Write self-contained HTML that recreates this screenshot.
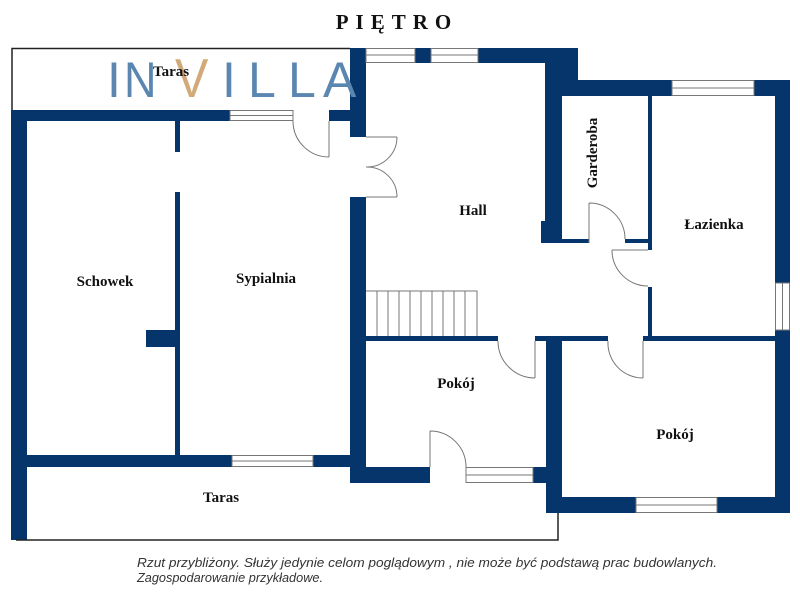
<!DOCTYPE html>
<html><head><meta charset="utf-8"><style>html,body{margin:0;padding:0;background:#fff}svg{display:block}</style></head>
<body>
<svg width="800" height="600" viewBox="0 0 800 600" xmlns="http://www.w3.org/2000/svg">
<g fill="#05356b">
<rect x="11" y="110" width="219" height="11"/>
<rect x="329" y="110" width="21" height="11"/>
<rect x="11" y="110" width="16" height="430"/>
<rect x="175" y="121" width="5" height="31"/>
<rect x="175" y="192" width="5" height="263"/>
<rect x="146" y="330" width="32" height="17"/>
<rect x="27" y="455" width="205" height="12"/>
<rect x="313" y="455" width="37" height="12"/>
<rect x="350" y="48" width="16" height="89"/>
<rect x="350" y="197" width="16" height="286"/>
<rect x="415" y="48" width="16" height="15"/>
<rect x="478" y="48" width="100" height="15"/>
<rect x="545" y="48" width="33" height="48"/>
<rect x="545" y="48" width="17" height="195"/>
<rect x="541" y="221" width="21" height="22"/>
<rect x="578" y="80" width="94" height="16"/>
<rect x="754" y="80" width="36" height="16"/>
<rect x="775" y="80" width="15" height="203"/>
<rect x="775" y="330" width="15" height="183"/>
<rect x="648" y="96" width="4" height="154"/>
<rect x="648" y="287" width="4" height="50"/>
<rect x="562" y="239" width="27" height="4"/>
<rect x="625" y="239" width="23" height="4"/>
<rect x="366" y="336" width="132" height="5"/>
<rect x="535" y="336" width="73" height="5"/>
<rect x="643" y="336" width="132" height="5"/>
<rect x="546" y="336" width="16" height="177"/>
<rect x="350" y="467" width="80" height="16"/>
<rect x="533" y="467" width="29" height="16"/>
<rect x="546" y="497" width="90" height="16"/>
<rect x="717" y="497" width="73" height="16"/>
</g>
<g fill="none" stroke="#777" stroke-width="1">
<rect x="230" y="110.5" width="63" height="10"/><line x1="230" y1="115.5" x2="293" y2="115.5"/>
<rect x="232" y="455.5" width="81" height="11"/><line x1="232" y1="461" x2="313" y2="461"/>
<rect x="366" y="48.5" width="49" height="14"/><line x1="366" y1="55" x2="415" y2="55"/>
<rect x="431" y="48.5" width="47" height="14"/><line x1="431" y1="55" x2="478" y2="55"/>
<rect x="672" y="80.5" width="82" height="15"/><line x1="672" y1="88" x2="754" y2="88"/>
<rect x="775.5" y="283" width="14" height="47"/><line x1="782.5" y1="283" x2="782.5" y2="330"/>
<rect x="466" y="467.5" width="67" height="15"/><line x1="466" y1="475" x2="533" y2="475"/>
<rect x="636" y="497.5" width="81" height="15"/><line x1="636" y1="505" x2="717" y2="505"/>
<path d="M329 121 V157 M329 157 A36 36 0 0 1 293 121"/>
<path d="M366 137 H397 M366 167 A30 30 0 0 0 397 137 M366 197 H397 M366 167 A30 30 0 0 1 397 197"/>
<path d="M589 203 V243 M589 203 A36 36 0 0 1 625 239"/>
<path d="M648 250 H612 M612 250 A36 36 0 0 0 648 286"/>
<path d="M535 341 V378 M535 378 A37 37 0 0 1 498 341"/>
<path d="M643 341 V378 M643 378 A35 35 0 0 1 608 341"/>
<path d="M430 467 V431 M430 431 A36 36 0 0 1 466 467"/>
<path d="M366 291 H477 V336"/>
<path d="M377 291V336M388 291V336M399 291V336M410 291V336M421 291V336M432 291V336M443 291V336M454 291V336M465 291V336"/>
</g>
<g fill="none" stroke="#222" stroke-width="1.5">
<path d="M12 110 V48.5 H350"/>
<path d="M16 540 H558 V513"/>
</g>
<g font-family="Liberation Sans, sans-serif" font-size="50" fill="#5a86b0">
<text x="107" y="97">I</text><text x="124" y="97" transform="translate(124,0) scale(0.9,1) translate(-124,0)">N</text>
<text x="222" y="97">I</text><text x="248" y="97">L</text><text x="288" y="97">L</text><text x="323" y="97">A</text>
</g>
<text x="175" y="97" font-family="Liberation Sans, sans-serif" font-size="50" fill="#d2aa7a" transform="translate(175,0) scale(1,1.1) translate(-175,-8.8)">V</text>
<g font-family="Liberation Serif, serif" font-weight="bold" font-size="15" fill="#111" text-anchor="middle">
<text x="397" y="29" font-size="21" letter-spacing="7">PIĘTRO</text>
<text x="171" y="76">Taras</text>
<text x="105" y="286">Schowek</text>
<text x="266" y="283">Sypialnia</text>
<text x="473" y="215">Hall</text>
<text x="714" y="229">Łazienka</text>
<text x="456" y="388">Pokój</text>
<text x="675" y="439">Pokój</text>
<text x="221" y="502">Taras</text>
<text transform="translate(597,153) rotate(-90)">Garderoba</text>
</g>
<g font-family="Liberation Sans, sans-serif" font-style="italic" font-size="12.5" fill="#333">
<text x="137" y="567" textLength="580" lengthAdjust="spacingAndGlyphs">Rzut przybliżony. Służy jedynie celom poglądowym , nie może być podstawą prac budowlanych.</text>
<text x="137" y="582" textLength="186" lengthAdjust="spacingAndGlyphs">Zagospodarowanie przykładowe.</text>
</g>
</svg>
</body></html>
